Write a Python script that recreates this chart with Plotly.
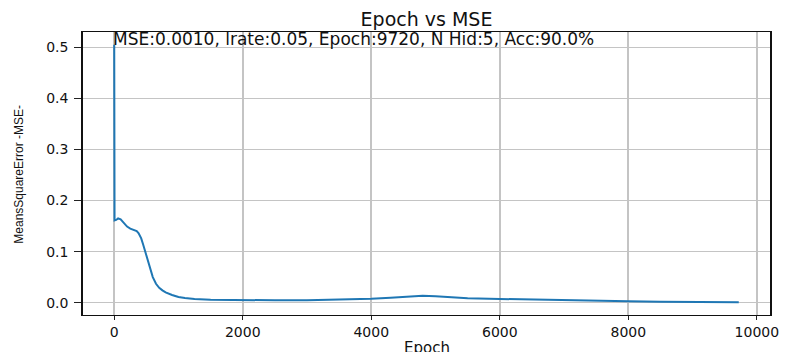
import plotly.graph_objects as go

# Data
epochs = [0, 5, 30, 60, 100, 150, 200, 250, 300, 350, 380, 420, 450, 480, 520, 560,
          600, 650, 700, 750, 800, 900, 1000, 1100, 1250, 1500, 1750, 2000, 2500, 3000,
          3500, 4000, 4300, 4600, 4800, 5000, 5200, 5500, 6000, 6500, 7000, 7500, 8000,
          8500, 9000, 9500, 9719]
mse = [0.505, 0.161, 0.162, 0.165, 0.163, 0.156, 0.149, 0.145, 0.143, 0.140, 0.136,
       0.126, 0.114, 0.101, 0.082, 0.064, 0.050, 0.037, 0.029, 0.024, 0.020, 0.015,
       0.011, 0.009, 0.007, 0.0055, 0.005, 0.0048, 0.0047, 0.0049, 0.0057, 0.0075,
       0.0095, 0.0122, 0.0135, 0.0125, 0.0105, 0.0088, 0.0072, 0.0058, 0.0045, 0.0034,
       0.0025, 0.0018, 0.0013, 0.0011, 0.0010]

x_ticks = [0, 2000, 4000, 6000, 8000, 10000]
y_ticks = [0.0, 0.1, 0.2, 0.3, 0.4, 0.5]

title_text = "Epoch vs MSE"
info_text = "MSE:0.0010, lrate:0.05, Epoch:9720, N Hid:5, Acc:90.0%"
x_label = "Epoch"
y_label = "MeansSquareError -MSE-"

# matplotlib-like 5% margins
xmin, xmax = min(epochs), max(epochs)
ymin, ymax = min(mse), max(mse)
xpad = (xmax - xmin) * 0.05
ypad = (ymax - ymin) * 0.05

font_main = "DejaVu Sans, Verdana, sans-serif"

fig = go.Figure()
fig.add_trace(go.Scatter(x=epochs, y=mse, mode="lines",
                         line=dict(color="#1f77b4", width=2), showlegend=False,
                         hoverinfo="skip"))

fig.update_layout(
    width=791, height=352,
    margin=dict(l=83, r=14, t=32, b=33),
    paper_bgcolor="white", plot_bgcolor="white",
    title=dict(text=title_text, x=0.5, xref="paper", xanchor="center",
               y=1 - 19.5 / 352, yanchor="middle",
               font=dict(family=font_main, size=19, color="#111")),
    font=dict(family=font_main, color="#111"),
)

fig.update_xaxes(
    range=[xmin - xpad, xmax + xpad],
    tickvals=x_ticks, tickformat="d",
    ticks="outside", ticklen=4, tickwidth=1, tickcolor="#222",
    tickfont=dict(family=font_main, size=14, color="#111"),
    showgrid=True, gridcolor="#c4c4c4", gridwidth=1.6,
    showline=True, linecolor="#111", linewidth=1, mirror=True,
    zeroline=False,
)
fig.update_yaxes(
    range=[ymin - ypad, ymax + ypad],
    tickvals=y_ticks, tickformat=".1f",
    ticks="outside", ticklen=7, tickwidth=1, tickcolor="#222",
    ticklabelstandoff=3,
    tickfont=dict(family=font_main, size=14, color="#111"),
    showgrid=True, gridcolor="#c4c4c4", gridwidth=1,
    showline=True, linecolor="#111", linewidth=1.6, mirror=True,
    zeroline=False,
)

fig.add_annotation(x=epochs[0], y=ymax, xref="x", yref="y",
                   text=info_text, showarrow=False, xanchor="left", yanchor="middle",
                   yshift=6, xshift=-3,
                   font=dict(family=font_main, size=17, color="#111"))
fig.add_annotation(x=0.5, y=-0.076, xref="paper", yref="paper",
                   text=x_label, showarrow=False, xanchor="center", yanchor="top",
                   font=dict(family=font_main, size=15, color="#111"))
fig.add_annotation(x=-0.0937, y=0.498, xref="paper", yref="paper",
                   text=y_label, showarrow=False, textangle=-90,
                   xanchor="center", yanchor="middle",
                   font=dict(family="Liberation Sans, Arial, sans-serif", size=12, color="#111"))

fig.write_html("out.html",
               config={"displayModeBar": False},
               post_script="document.body.style.margin='0';document.body.style.overflow='hidden';")
